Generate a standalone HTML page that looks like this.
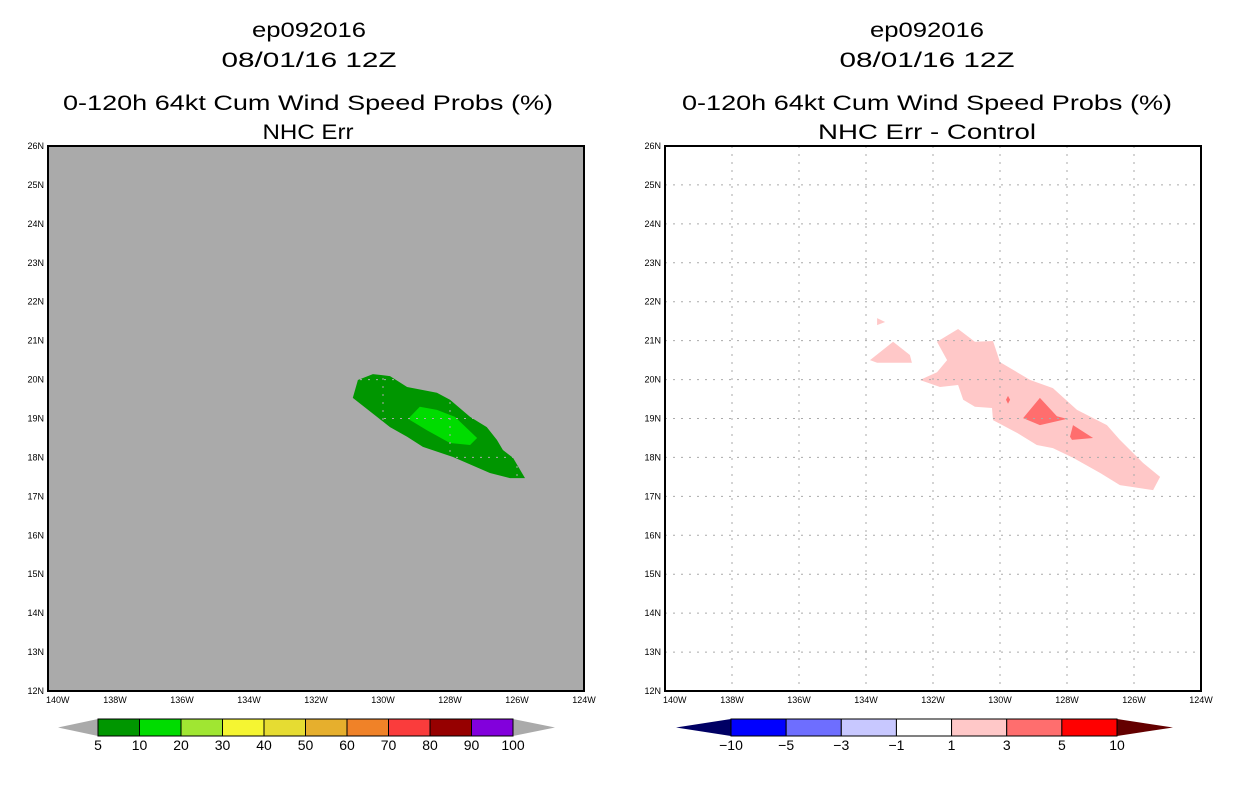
<!DOCTYPE html>
<html><head><meta charset="utf-8">
<style>
body{margin:0;background:#fff;}
svg{display:block;font-family:"Liberation Sans",sans-serif;}
.t{font-size:21px;text-anchor:middle;fill:#000;}
.ax{font-size:9px;fill:#000;}
.cb{font-size:14px;text-anchor:middle;fill:#000;}
</style></head>
<body>
<svg id="chart" width="1236" height="800" xmlns="http://www.w3.org/2000/svg">
<text class="t" x="309" y="37" textLength="114" lengthAdjust="spacingAndGlyphs">ep092016</text>
<text class="t" x="309" y="67" textLength="175" lengthAdjust="spacingAndGlyphs">08/01/16 12Z</text>
<text class="t" x="308" y="110" textLength="490" lengthAdjust="spacingAndGlyphs">0-120h 64kt Cum Wind Speed Probs (%)</text>
<text class="t" x="308" y="139" textLength="91" lengthAdjust="spacingAndGlyphs">NHC Err</text>
<text class="t" x="927" y="37" textLength="114" lengthAdjust="spacingAndGlyphs">ep092016</text>
<text class="t" x="927" y="67" textLength="175" lengthAdjust="spacingAndGlyphs">08/01/16 12Z</text>
<text class="t" x="927" y="110" textLength="490" lengthAdjust="spacingAndGlyphs">0-120h 64kt Cum Wind Speed Probs (%)</text>
<text class="t" x="927" y="139" textLength="218" lengthAdjust="spacingAndGlyphs">NHC Err - Control</text>
</svg>
<script>
// ---- data ----
const lonTicks = [-140,-138,-136,-134,-132,-130,-128,-126,-124];
const lonTickLabels = ["140W","138W","136W","134W","132W","130W","128W","126W","124W"];
const latTicks = [12,13,14,15,16,17,18,19,20,21,22,23,24,25,26];
const latTickLabels = ["12N","13N","14N","15N","16N","17N","18N","19N","20N","21N","22N","23N","24N","25N","26N"];
// left panel: probability contours (lon, lat)
const probOuterLon = [-130.90,-130.75,-130.30,-129.79,-129.28,-128.39,-128.0,-127.40,-126.90,-126.60,-126.42,-126.12,-125.76,-126.21,-126.81,-127.91,-128.81,-129.28,-129.79,-130.18];
const probOuterLat = [19.53,19.99,20.14,20.09,19.81,19.66,19.48,19.04,18.78,18.45,18.19,17.99,17.47,17.47,17.60,18.01,18.27,18.53,18.78,19.04];
const probInnerLon = [-129.25,-128.90,-128.39,-127.85,-127.19,-127.40,-128.0,-128.69];
const probInnerLat = [18.99,19.30,19.22,19.04,18.50,18.32,18.37,18.70];
// right panel: difference contours
const diffMainLon = [-132.39,-131.88,-131.58,-131.88,-131.25,-130.75,-130.21,-130.0,-129.10,-128.42,-127.70,-126.81,-126.42,-125.73,-125.22,-125.43,-126.42,-127.01,-127.82,-128.42,-128.90,-129.49,-130.21,-130.24,-130.75,-131.10,-131.25,-131.79];
const diffMainLat = [19.99,20.19,20.50,20.97,21.30,20.97,20.99,20.45,19.99,19.78,19.22,18.83,18.45,17.86,17.50,17.16,17.29,17.60,17.99,18.24,18.32,18.63,18.96,19.27,19.30,19.48,19.86,19.81];
const diffBlobLon = [-133.88,-133.19,-132.69,-132.63,-133.67];
const diffBlobLat = [20.50,20.97,20.63,20.43,20.43];
const diffTinyLon = [-133.67,-133.43,-133.67];
const diffTinyLat = [21.58,21.48,21.40];
const diffHi1Lon = [-129.31,-128.81,-128.30,-128.0,-128.81];
const diffHi1Lat = [19.01,19.53,19.06,18.99,18.83];
const diffHi2Lon = [-127.91,-127.82,-127.22,-127.85];
const diffHi2Lat = [18.53,18.83,18.50,18.45];
const diffDotLon = [-129.76,-129.70,-129.76,-129.82];
const diffDotLat = [19.58,19.48,19.38,19.48];
const probLevels = ["5","10","20","30","40","50","60","70","80","90","100"];
const probColors = ["#009600","#00dc00","#a0e632","#f5f532","#e6dc32","#e6af2d","#f08228","#fa3c3c","#960000","#8200dc"];
const diffLevels = ["-10","-5","-3","-1","1","3","5","10"];
const diffColors = ["#0000ff","#6e6eff","#c8c8ff","#ffffff","#ffc8c8","#ff6e6e","#ff0000"];

const NS="http://www.w3.org/2000/svg";
const svg=document.getElementById('chart');
function mk(tag,attrs,parent){const e=document.createElementNS(NS,tag);for(const k in attrs)e.setAttribute(k,attrs[k]);(parent||svg).appendChild(e);return e;}
const PT=146,PB=691,PW=536;
function xS(x0){return lon=>x0+(lon+140)/16*PW;}
function yS(lat){return PB-(lat-12)/14*(PB-PT);}
function poly(xs,lons,lats,fill,name,g){
  const pts=lons.map((l,i)=>xs(l).toFixed(1)+","+yS(lats[i]).toFixed(1)).join(" ");
  const p=mk('polygon',{points:pts,fill:fill},g);
  
  
}
function panel(x0,bg,prefix,drawShapes){
  const xs=xS(x0);
  const g=mk('g',{});
  
  
  const r=mk('rect',{x:x0,y:PT,width:PW,height:PB-PT,fill:bg},g);
  
  
  drawShapes(xs,g);
  lonTicks.forEach((l,i)=>{
    if(i>0&&i<lonTicks.length-1){
      const ln=mk('line',{x1:xs(l),x2:xs(l),y1:PT,y2:PB,stroke:'#aaa','stroke-dasharray':'2,6'},g);
      
      
    }
    const t=mk('text',{x:xs(l)+(i==0?-2:0),y:PB+12,'class':'ax','text-anchor':i==0?'start':'middle'},g);
    t.textContent=lonTickLabels[i];
    
    
  });
  latTicks.forEach((l,i)=>{
    if(i>0&&i<latTicks.length-1){
      const ln=mk('line',{x1:x0,x2:x0+PW,y1:yS(l),y2:yS(l),stroke:'#aaa','stroke-dasharray':'2,6'},g);
      
      
    }
    const t=mk('text',{x:x0-4,y:yS(l)+3,'class':'ax','text-anchor':'end'},g);
    t.textContent=latTickLabels[i];
    
    
  });
  const f=mk('rect',{x:x0,y:PT,width:PW,height:PB-PT,fill:'none',stroke:'#000','stroke-width':2},g);
  
  
}
panel(48,'#aaaaaa','left',(xs,g)=>{
  poly(xs,probOuterLon,probOuterLat,'#009600','prob-contour-5',g);
  poly(xs,probInnerLon,probInnerLat,'#00dc00','prob-contour-10',g);
});
panel(665,'#ffffff','right',(xs,g)=>{
  poly(xs,diffMainLon,diffMainLat,'#ffc8c8','diff-contour-1',g);
  poly(xs,diffBlobLon,diffBlobLat,'#ffc8c8','diff-contour-1-blob',g);
  poly(xs,diffTinyLon,diffTinyLat,'#ffc8c8','diff-contour-1-tiny',g);
  poly(xs,diffHi1Lon,diffHi1Lat,'#ff6e6e','diff-contour-3-a',g);
  poly(xs,diffHi2Lon,diffHi2Lat,'#ff6e6e','diff-contour-3-b',g);
  poly(xs,diffDotLon,diffDotLat,'#ff6e6e','diff-contour-3-dot',g);
});
function colorbar(triL,x0,x1,triR,colors,levels,lowC,highC,prefix){
  const y0=719,y1=736,ym=(y0+y1)/2;
  const g=mk('g',{});
  
  
  const l=mk('polygon',{points:`${triL},${ym} ${x0},${y0} ${x0},${y1}`,fill:lowC},g);
  
  
  const r=mk('polygon',{points:`${triR},${ym} ${x1},${y0} ${x1},${y1}`,fill:highC},g);
  
  
  const w=(x1-x0)/colors.length;
  colors.forEach((c,i)=>{
    const b=mk('rect',{x:x0+i*w,y:y0,width:w,height:y1-y0,fill:c,stroke:'#000','stroke-width':1},g);
    
    
  });
  levels.forEach((lv,i)=>{
    const t=mk('text',{x:x0+i*w,y:750,'class':'cb'},g);
    t.textContent=lv.replace('-','\u2212');
    
    
  });
}
colorbar(58,98,513,555,probColors,probLevels,'#aaaaaa','#aaaaaa','left');
colorbar(676,731,1117,1173,diffColors,diffLevels,'#000064','#640000','right');
</script>
</body></html>
